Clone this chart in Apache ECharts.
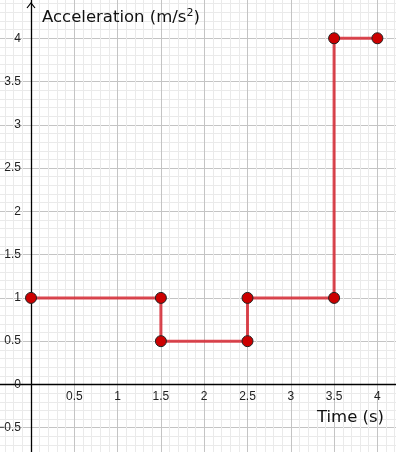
<!DOCTYPE html>
<html><head><meta charset="utf-8">
<style>html,body{margin:0;padding:0;background:#fff}#c{width:396px;height:452px}</style>
<script src="https://cdn.jsdelivr.net/npm/echarts@6/dist/echarts.min.js"></script>
</head><body><div id="c"></div>
<script>
var timeValues = [0, 1.5, 1.5, 2.5, 2.5, 3.5, 3.5, 4];
var accelValues = [1, 1, 0.5, 0.5, 1, 1, 4, 4];
var xTitle = 'Time (s)';
var yTitle = 'Acceleration (m/s{sup|2})';

var pts = timeValues.map(function (t, i) { return [t, accelValues[i]]; });
function fmt(v) { return String(v).replace('-', '\u2212'); }
var chart = echarts.init(document.getElementById('c'));
chart.setOption({
  animation: false,
  grid: { left: -12.3, right: -24.7, top: -5, bottom: -19, containLabel: false, outerBoundsMode: 'none' },
  xAxis: {
    type: 'value', min: -0.5, max: 4.5, interval: 0.5, position: 'bottom', offset: -86.5,
    axisLine: { onZero: false, lineStyle: { color: '#000', width: 1.3 } },
    axisTick: { show: false },
    axisLabel: { color: '#222', fontFamily: 'Liberation Sans', fontSize: 12, margin: 6,
      formatter: function (v) { return v <= 0 ? '' : fmt(v); } },
    splitLine: { show: true, lineStyle: { color: '#c4c4c4', width: 1 } },
    minorTick: { show: false, splitNumber: 5 },
    minorSplitLine: { show: true, lineStyle: { color: '#eaeaea', width: 1 } }
  },
  yAxis: {
    type: 'value', min: -1, max: 4.5, interval: 0.5, position: 'left', offset: -43.3,
    axisLine: { onZero: false, lineStyle: { color: '#000', width: 1.3 } },
    axisTick: { show: false },
    axisLabel: { color: '#222', fontFamily: 'Liberation Sans', fontSize: 12, margin: 10,
      formatter: function (v) { return fmt(v); } },
    splitLine: { show: true, lineStyle: { color: '#c4c4c4', width: 1 } },
    minorTick: { show: false, splitNumber: 5 },
    minorSplitLine: { show: true, lineStyle: { color: '#eaeaea', width: 1 } }
  },
  title: [
    { text: yTitle, left: 42, top: 8, padding: 0,
      textStyle: { fontFamily: 'DejaVu Sans', fontWeight: 'normal', fontSize: 16.5, color: '#111',
        rich: { sup: { fontFamily: 'DejaVu Sans', fontSize: 11, color: '#111', verticalAlign: 'top', padding: [0, 0, 8, 0] } } } },
    { text: xTitle, right: 12, top: 409, padding: 0,
      textStyle: { fontFamily: 'DejaVu Sans', fontWeight: 'normal', fontSize: 16.5, color: '#111' } }
  ],
  graphic: [
    { type: 'polyline', shape: { points: [[27, 8], [31, 3], [35, 8]] },
      style: { stroke: '#000', lineWidth: 1.2, fill: null }, z: 100 }
  ],
  series: [{
    type: 'line', data: pts, symbol: 'circle', symbolSize: 11,
    lineStyle: { color: 'rgba(214,40,50,0.85)', width: 3 },
    itemStyle: { color: '#cc0000', borderColor: '#222', borderWidth: 1 },
    z: 10
  }]
});
</script></body></html>
